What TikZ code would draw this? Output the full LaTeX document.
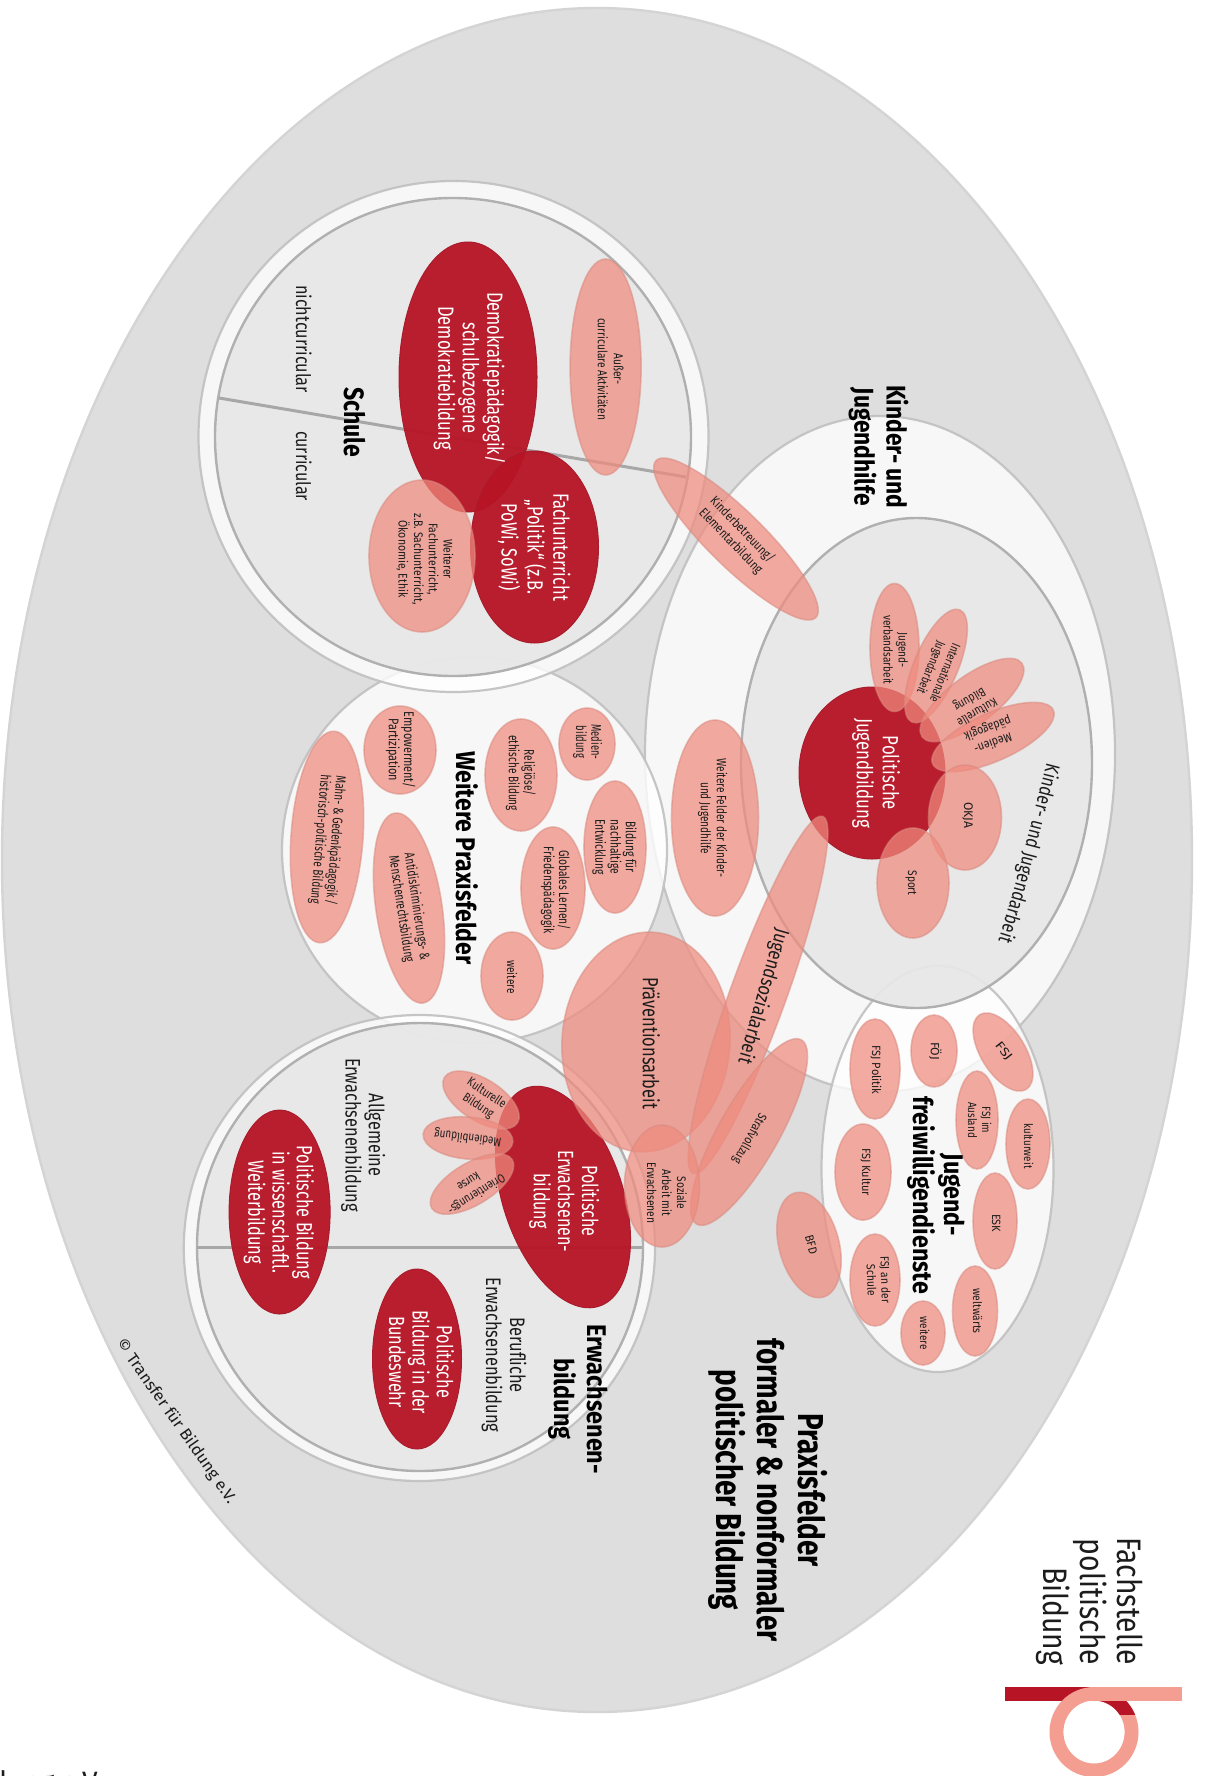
\documentclass[tikz,border=0pt]{standalone}
\usepackage{fontspec}
\usepackage{graphicx}
\usetikzlibrary{decorations.text}
\setmainfont{Fira Sans}
\newfontfamily\condfont[FakeStretch=0.8]{Fira Sans}
\definecolor{outerfill}{HTML}{DEDEDE}
\definecolor{outerline}{HTML}{D4D4D4}
\definecolor{ringfill}{HTML}{FFFFFF}
\definecolor{ringline}{HTML}{C0C0C0}
\definecolor{innerfill}{HTML}{E7E7E7}
\definecolor{innerline}{HTML}{B0B0B0}
\definecolor{darkred}{HTML}{B71426}
\definecolor{darkedge}{HTML}{A81C2C}
\definecolor{petalfill}{HTML}{F08B7E}
\definecolor{petaledge}{HTML}{D98B80}
\definecolor{logopink}{HTML}{F49E92}
\definecolor{inktext}{HTML}{1C1C1C}
\tikzset{
  outerblob/.style={fill=outerfill,draw=outerline,line width=1.2pt},
  ringblob/.style={fill=ringfill,fill opacity=.78,draw=ringline,draw opacity=.9,line width=1.1pt},
  coreblob/.style={fill=innerfill,fill opacity=.93,draw=innerline,line width=1.2pt},
  redblob/.style={fill=darkred,fill opacity=.95,draw=darkedge,line width=.5pt},
  petalblob/.style={fill=petalfill,fill opacity=.72,draw=petaledge,draw opacity=.55,line width=.8pt},
  divider/.style={draw=innerline!95!black,line width=1.5pt},
  lbl/.style={inner sep=0pt,outer sep=0pt},
}
% ellipse: centre x,y ; radii rx, ry ; rotation ; style
\newcommand{\blob}[6]{\path[#6,shift={(#1,#2)},rotate=#5] (0,0) ellipse [x radius=#3,y radius=#4];}
\newsavebox{\lblbox}
\newlength{\lbw}
% label: name, x, y, rotation, size px, leading px, target length px, format, colour, text
\newcommand{\lab}[9]{\def\labA{#1}\def\labB{#2}\def\labC{#3}\def\labD{#4}\def\labE{#5}\def\labF{#6}\def\labG{#7}\def\labH{#8}\def\labI{#9}\labfinish}
\newcommand{\labfinish}[1]{%
  \node[lbl,rotate=\labD] (\labA) at (\labB,\labC) {%
  \pgfmathsetmacro{\labfs}{\labE/2}\pgfmathsetmacro{\labls}{\labF/2}%
  \sbox{\lblbox}{\fontsize{\labfs pt}{\labls pt}\selectfont\labH\color{\labI}\begin{tabular}{@{}c@{}}#1\end{tabular}}%
  \setlength{\lbw}{\wd\lblbox}%
  \pgfmathsetmacro{\labsc}{(\labG/2)/\lbw}%
  \scalebox{\labsc}[1]{\usebox{\lblbox}}};%
}
\begin{document}
\begin{tikzpicture}[x=0.5pt,y=-0.5pt]
\useasboundingbox (0,0) rectangle (1208,1776);
\fill[white] (0,0) rectangle (1208,1776);
% outer
\blob{597}{860}{595}{852}{0}{outerblob}
% Kinder- und Jugendhilfe, Weitere Praxisfelder, Freiwilligendienste
\blob{880}{754}{235}{338}{0}{ringblob}
\blob{474.5}{850}{192.5}{193}{0}{ringblob}
\blob{937.5}{1169}{116}{203}{0}{ringblob}
\blob{916.5}{763}{175.5}{245}{0}{coreblob}
% Schule
\blob{453.5}{436.5}{255}{255.5}{0}{ringblob}
\blob{453}{437}{238}{239}{0}{coreblob}
\coordinate (schuleA) at (219,398);
\coordinate (schuleB) at (686,477);
\draw[divider] (schuleA) -- (schuleB);
% Erwachsenenbildung
\blob{419.4}{1248}{235.6}{233}{0}{ringblob}
\blob{420}{1247}{223}{224}{0}{coreblob}
\coordinate (erwA) at (197,1247);
\coordinate (erwB) at (642,1247);
\draw[divider] (erwA) -- (erwB);
% dark red
\blob{468}{377}{69}{135}{0}{redblob}
\blob{534.5}{547}{64}{96}{0}{redblob}
\blob{872}{773}{73}{86}{0}{redblob}
\blob{563}{1197}{60}{115}{18.4}{redblob}
\blob{279.6}{1212}{50.5}{102}{0}{redblob}
\blob{417}{1359}{44.5}{90}{0}{redblob}
% Schule petals
\blob{422}{556}{53}{76}{0}{petalblob}
\blob{605.6}{367}{35.5}{108}{0}{petalblob}
\blob{736}{539}{28}{112}{45.5}{petalblob}
% Kinder petals
\blob{894.5}{647.5}{24.5}{64}{0}{petalblob}
\blob{936}{666}{22}{61}{-23}{petalblob}
\blob{972}{700}{24}{62}{-53.5}{petalblob}
\blob{993}{737}{24}{66}{-66}{petalblob}
\blob{965}{817.5}{36.5}{52.5}{0}{petalblob}
\blob{913}{883}{36}{55}{0}{petalblob}
\blob{715}{818}{43.5}{98}{0}{petalblob}
% Praxis petals
\blob{587}{744}{28}{36}{0}{petalblob}
\blob{521}{775}{36}{56}{0}{petalblob}
\blob{400}{750}{36}{44}{0}{petalblob}
\blob{615}{847}{31}{66}{0}{petalblob}
\blob{553}{888}{32}{61}{0}{petalblob}
\blob{512}{976}{31}{44}{0}{petalblob}
\blob{327}{837}{36}{106}{-4}{petalblob}
\blob{409}{908}{33}{96}{8.5}{petalblob}
% central overlaps
\blob{646}{1042}{84}{110}{-4}{petalblob}
\blob{758}{995}{28}{190}{-19.9}{petalblob}
\blob{749}{1132}{30}{106}{-29.6}{petalblob}
\blob{662}{1186}{37.5}{61}{0}{petalblob}
% Erw petals
\blob{481}{1100}{21}{43}{58}{petalblob}
\blob{468}{1138}{21}{45}{85}{petalblob}
\blob{472}{1184}{21}{47}{-59}{petalblob}
% JFD petals
\blob{934}{1051}{23}{36}{0}{petalblob}
\blob{1003}{1052}{22}{44}{32}{petalblob}
\blob{875}{1069}{25}{50}{0}{petalblob}
\blob{977}{1120}{21}{49}{0}{petalblob}
\blob{1028}{1144}{22}{45}{0}{petalblob}
\blob{863}{1172}{28}{48}{0}{petalblob}
\blob{995}{1221}{22}{48}{0}{petalblob}
\blob{875}{1280}{25}{46}{0}{petalblob}
\blob{975}{1311}{22.5}{45}{0}{petalblob}
\blob{923}{1333}{22}{32}{0}{petalblob}
\blob{809}{1245}{30}{54}{15}{petalblob}
% Logo
\fill[darkred] (1005,1687) rectangle (1090,1701);
\fill[logopink] (1090,1687) rectangle (1182,1701);
\fill[logopink,even odd rule] (1094,1732) circle [x radius=44.5,y radius=45] (1094,1732) circle [x radius=30.6,y radius=31.5];
\begin{scope}
\clip (1094,1701) rectangle (1142,1714);
\fill[darkred,even odd rule] (1094,1732) circle [x radius=44.5,y radius=45] (1094,1732) circle [x radius=30.6,y radius=31.5];
\end{scope}
% Labels
\lab{schule}{351}{422}{-90}{28}{32}{70}{\bfseries}{black}{Schule}
\lab{nichtcur}{301}{339}{-90}{20}{24}{108}{}{inktext}{nichtcurricular}
\lab{curr}{301}{466}{-90}{20}{24}{70}{}{inktext}{curricular}
\lab{demo}{468}{378}{-90}{22}{24.5}{172}{}{white}{Demokratiepädagogik/\\schulbezogene\\Demokratiebildung}
\lab{fach}{532.5}{547}{-90}{22}{24}{108}{}{white}{Fachunterricht\\„Politik“ (z.B.\\PoWi, SoWi)}
\lab{weiterer}{424}{559}{-90}{12.5}{14.7}{91}{}{inktext}{Weiterer\\Fachunterricht,\\z.B. Sachunterricht,\\Ökonomie, Ethik}
\lab{ausser}{609}{369}{-90}{13}{16}{102}{}{inktext}{Außer-\\curriculare Aktivitäten}
\lab{kjh}{877}{447}{-90}{27}{32}{123}{\bfseries}{black}{Kinder- und\\Jugendhilfe}
\lab{kita}{736}{536}{-46}{13}{16}{86}{}{inktext}{Kinderbetreuung/\\Elementarbildung}
\lab{jv}{894}{650}{-90}{12.5}{15}{69}{}{inktext}{Jugend-\\verbandsarbeit}
\lab{intl}{937}{670}{-112}{12.5}{15}{62}{}{inktext}{Internationale\\Jugendarbeit}
\lab{kult}{973}{705}{-150}{12.5}{15}{44}{}{inktext}{Kulturelle\\Bildung}
\lab{medp}{990}{735}{-160}{12.5}{15}{49}{}{inktext}{Medien-\\pädagogik}
\lab{pjb}{875}{773}{-90}{22}{26}{110}{}{white}{Politische\\Jugendbildung}
\lab{okja}{967}{815}{-90}{12.5}{15}{26}{}{inktext}{OKJA}
\lab{sport}{911}{883}{-90}{12.5}{15}{25}{}{inktext}{Sport}
\lab{jsa}{762}{996}{-106}{20}{24}{140}{}{inktext}{Jugendsozialarbeit}
\lab{straf}{749}{1138}{-119}{12.5}{15}{56}{}{inktext}{Strafvollzug}
\lab{soz}{665}{1193}{-90}{12.5}{15}{61}{}{inktext}{Soziale\\Arbeit mit\\Erwachsenen}
\lab{praev}{648}{1043}{-90}{22}{26}{132}{}{inktext}{Präventionsarbeit}
\lab{wfelder}{712}{818}{-90}{13.5}{16}{119}{}{inktext}{Weitere Felder der Kinder-\\und Jugendhilfe}
\lab{wpf}{463}{858}{-90}{27}{32}{213}{\bfseries}{black}{Weitere Praxisfelder}
\lab{medb}{587}{742}{-90}{14}{14.5}{35}{}{inktext}{Medien-\\bildung}
\lab{rel}{520}{773}{-90}{14}{15}{76}{}{inktext}{Religiöse/\\ethische Bildung}
\lab{emp}{400}{750}{-90}{14}{14.5}{77}{}{inktext}{Empowerment/\\Partizipation}
\lab{bne}{614}{847}{-90}{14}{14.5}{56}{}{inktext}{Bildung für\\nachhaltige\\Entwicklung}
\lab{glob}{555}{890}{-90}{14}{14.5}{87}{}{inktext}{Globales Lernen/\\Friedenspädagogik}
\lab{weit}{510}{977}{-90}{13}{15}{33}{}{inktext}{weitere}
\lab{mahn}{327}{840}{-94.5}{14}{15}{130}{}{inktext}{Mahn- \& Gedenkpädagogik /\\historisch-politische Bildung}
\lab{anti}{408}{908}{-81.5}{14}{15.5}{108}{}{inktext}{Antidiskriminierungs- \&\\Menschenrechtsbildung}
\lab{peb}{563}{1201}{-90}{22}{24}{102}{}{white}{Politische\\Erwachsenen-\\bildung}
\lab{kulb}{482}{1100}{-34}{12.5}{15}{44}{}{inktext}{Kulturelle\\Bildung}
\lab{medi}{468}{1137}{173}{12.5}{15}{67}{}{inktext}{Medienbildung}
\lab{ori}{472}{1187}{-147.5}{12.5}{15}{65}{}{inktext}{Orientierungs-\\kurse}
\lab{allg}{362}{1135}{-90}{21}{23}{154}{}{inktext}{Allgemeine\\Erwachsenenbildung}
\lab{wiss}{277.6}{1212}{-90}{22}{23.5}{133}{}{white}{Politische Bildung\\in wissenschaftl.\\Weiterbildung}
\lab{beruf}{503}{1355}{-90}{21}{24}{155}{}{inktext}{Berufliche\\Erwachsenenbildung}
\lab{bund}{418}{1362}{-90}{22}{23.5}{104}{}{white}{Politische\\Bildung in der\\Bundeswehr}
\lab{erw}{578}{1399}{-90}{27}{33}{150}{\bfseries}{black}{Erwachsenen-\\bildung}
\lab{praxis}{766}{1490}{-90}{36}{40.5}{303}{\bfseries}{black}{Praxisfelder\\formaler \& nonformaler\\politischer Bildung}
\lab{jfd}{935}{1195}{-90}{27}{31}{198}{\bfseries}{black}{Jugend-\\freiwilligendienste}
\lab{foej}{934}{1051}{-90}{12}{14}{18}{}{inktext}{FÖJ}
\lab{fsj}{1003}{1052}{-52}{12}{14}{20}{}{inktext}{FSJ}
\lab{fsjp}{875}{1070}{-90}{12}{14}{49}{}{inktext}{FSJ Politik}
\lab{fsja}{978}{1120}{-90}{12}{14}{36}{}{inktext}{FSJ im\\Ausland}
\lab{kw}{1027}{1146}{-90}{12}{14}{45}{}{inktext}{kulturweit}
\lab{fsjk}{865}{1172}{-90}{12}{14}{48}{}{inktext}{FSJ Kultur}
\lab{esk}{995}{1223}{-90}{12}{14}{18}{}{inktext}{ESK}
\lab{fsjs}{877}{1280}{-88}{12}{14}{47}{}{inktext}{FSJ an der\\Schule}
\lab{ww}{976}{1311}{-90}{12}{14}{45}{}{inktext}{weltwärts}
\lab{weit2}{923}{1333}{-90}{12}{14}{33}{}{inktext}{weitere}
\lab{bfd}{810}{1245}{-75}{12}{14}{19}{}{inktext}{BFD}
\lab{copy}{175}{1422}{-55}{16}{18}{197}{}{inktext}{© Transfer für Bildung e.V.}
\node[lbl,rotate=-90,font=\fontsize{17}{18.5}\selectfont,align=right,anchor=east,xscale=.83,text=inktext] (fpb) at (1090,1665) {Fachstelle\\politische\\Bildung};
% label cut off by the lower page edge
\begin{scope}
\clip (0,1740) rectangle (1208,1776);
\node[lbl,anchor=base east,font=\fontsize{14}{16}\selectfont,text=inktext] (cutoff) at (103,1791) {für Bildung e.V.};
\end{scope}
% curved label
\coordinate (arcA) at (1047,762);
\coordinate (arcB) at (998,942);
\path[decorate,decoration={text along path,text align=center,text={|\condfont\fontsize{10}{12}\selectfont\color{inktext}|Kinder- und Jugendarbeit}}]
  (arcA) .. controls (1037,800) and (1018,880) .. (arcB);
\end{tikzpicture}
\end{document}
